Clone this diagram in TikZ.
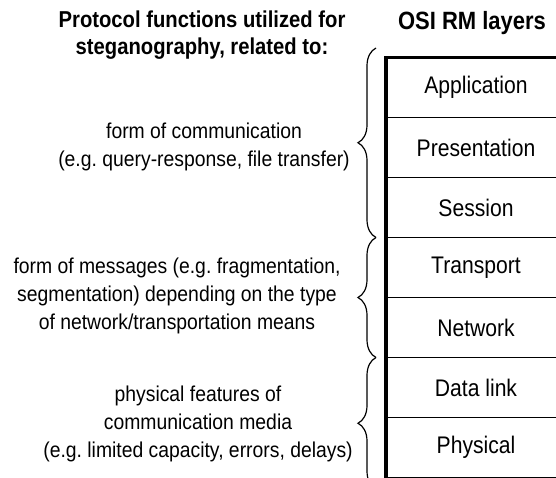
\documentclass[tikz,border=0pt]{standalone}
\usepackage{fontspec}
\setmainfont{Liberation Sans}
\usetikzlibrary{positioning,decorations.pathreplacing}
\frenchspacing

\begin{document}
\begin{tikzpicture}[x=1pt,y=-1pt,
		layer/.style={draw,line width=1pt,outer sep=0pt,inner sep=0pt,minimum width=204pt,minimum height=60pt,xscale=0.88,font=\fontsize{24}{28}\selectfont},
		head/.style={align=center,inner sep=0pt,xscale=0.88,font=\fontsize{23}{27}\selectfont\bfseries},
		note/.style={align=center,inner sep=0pt,xscale=0.9,font=\fontsize{21.5}{28}\selectfont},
		brace/.style={decorate,decoration={brace,amplitude=18pt},line width=1.2pt}]
		\useasboundingbox (0,0) rectangle (556,478);
		\clip (0,0) rectangle (556,478);
		\node[layer] (app) at (476,87.5){Application};
		\node[layer,below=0pt of app] (pres){Presentation};
		\node[layer,below=0pt of pres] (sess){Session};
		\node[layer,below=0pt of sess] (trans){Transport};
		\node[layer,below=0pt of trans] (net){Network};
		\node[layer,below=0pt of net] (dl){Data link};
		\node[layer,below=0pt of dl] (phys){Physical};
		\draw[line width = 3.5pt] (phys.south west) -- (app.north west) -- (app.north east);
		\node[head,font=\fontsize{25}{27}\selectfont\bfseries] (osi) at (472,23){OSI RM layers};
		\node[head] (proto) at (202,35){Protocol functions utilized for\\steganography, related to:};
		\coordinate (b0) at (376,48);
		\coordinate (b1) at (376,237.5);
		\coordinate (b2) at (376,357.5);
		\coordinate (b3) at (376,489);
		\draw[brace] (b1) -- (b0);
		\draw[brace] (b2) -- (b1);
		\draw[brace] (b3) -- (b2);
		\node[note] (comm) at (204,147){form of communication\\(e.g. query-response, file transfer)};
		\node[note] (msg) at (177,296){form of messages (e.g. fragmentation,\\segmentation) depending on the type\\of network/transportation means};
		\node[note] (phy) at (198,424){physical features of\\communication media\\(e.g. limited capacity, errors, delays)};
\end{tikzpicture}
\end{document}
